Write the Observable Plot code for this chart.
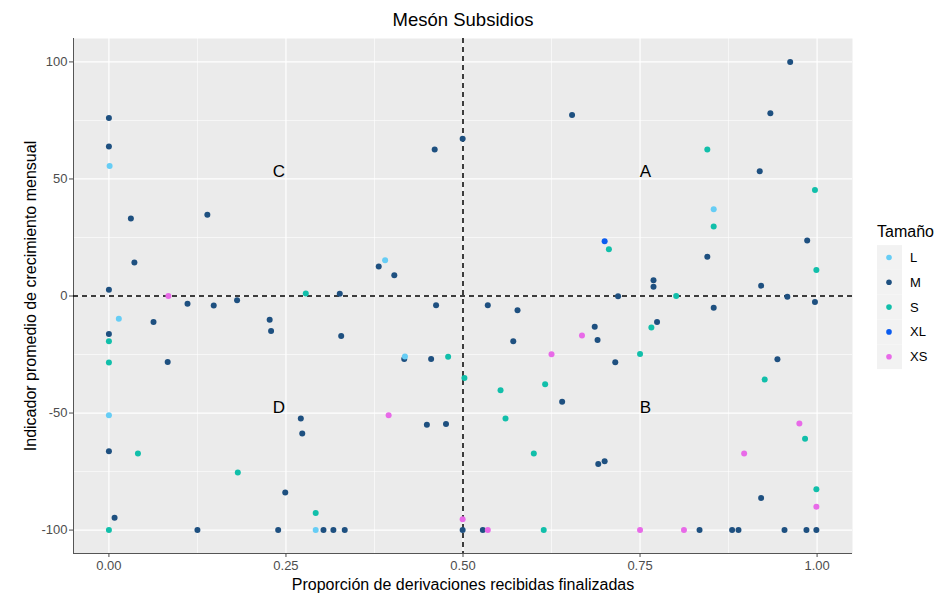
<!DOCTYPE html>
<html>
<head>
<meta charset="utf-8">
<script src="https://cdn.jsdelivr.net/npm/d3@7"></script>
<script src="https://cdn.jsdelivr.net/npm/@observablehq/plot@0.6"></script>
<style>
  html, body { margin: 0; padding: 0; background: #fff; }
  svg { font-family: "Liberation Sans", Arial, sans-serif; }
</style>
</head>
<body>
<div id="chart"></div>
<script>
// ---- Data ----
const sizes = ["L", "M", "S", "XL", "XS"];
const sizeColors = ["#66cdf5", "#1e5080", "#11bfaa", "#0a5cf0", "#e86ae8"];

const lX = [0.001, 0.390, 0.854, 0.014, 0.418, 0.000, 0.292];
const lY = [55.5, 15.3, 37.1, -9.7, -25.8, -50.9, -100];

const mX = [0, 0, 0.031, 0.036, 0, 0.111, 0.139, 0.148, 0.181, 0.326, 0.381, 0.403, 0.460, 0.4995, 0.462,
  0.654, 0.962, 0.934, 0.919, 0.986, 0.845, 0.769, 0.769, 0.921, 0.719, 0.958, 0.535, 0.577, 0.854, 0.997,
  0.063, 0, 0.083, 0.227, 0.229, 0.328, 0.417, 0.455, 0, 0.271, 0.273, 0.249, 0.449, 0.476, 0.008,
  0.125, 0.239, 0.303, 0.317, 0.333, 0.4995, 0.571, 0.686, 0.690, 0.715, 0.774, 0.944, 0.640, 0.691, 0.700,
  0.921, 0.528, 0.834, 0.880, 0.889, 0.954, 0.985, 0.999];
const mY = [76, 63.9, 33.1, 14.3, 2.7, -3.3, 34.7, -4.1, -1.8, 1.0, 12.6, 8.9, 62.6, 67.2, -4.0,
  77.3, 100, 78.1, 53.3, 23.7, 16.8, 6.7, 4.0, 4.4, -0.1, -0.3, -4.0, -6.1, -5.0, -2.6,
  -11.1, -16.2, -28.2, -10.1, -14.9, -17.1, -26.9, -26.9, -66.3, -52.3, -58.7, -83.9, -55.0, -54.7, -94.7,
  -100, -100, -100, -100, -100, -100, -19.3, -13.1, -18.8, -28.3, -11.1, -27.0, -45.2, -71.8, -70.6,
  -86.3, -100, -100, -100, -100, -100, -100, -100];

const sX = [0.278, 0.845, 0.997, 0.854, 0.706, 0.999, 0.801, 0, 0, 0.479, 0.502, 0.041, 0.182, 0.292, 0,
  0.750, 0.766, 0.926, 0.553, 0.616, 0.560, 0.600, 0.983, 0.999, 0.614];
const sY = [1.1, 62.6, 45.3, 29.7, 20.0, 11.1, 0, -19.3, -28.4, -26.0, -35.0, -67.3, -75.4, -92.7, -100,
  -24.8, -13.5, -35.7, -40.3, -37.7, -52.3, -67.3, -61.0, -82.6, -100];

const xlX = [0.700];
const xlY = [23.4];

const xsX = [0.084, 0.395, 0.4995, 0.535, 0.668, 0.625, 0.897, 0.975, 0.999, 0.750, 0.812];
const xsY = [0, -50.9, -95.4, -100, -16.9, -24.9, -67.3, -54.5, -90.0, -100, -100];

const quadLabels = ["A", "B", "C", "D"];
const quadX = [0.7575, 0.7575, 0.24, 0.24];
const quadY = [53, -47.5, 53, -47.5];

const xTicks = [0, 0.25, 0.5, 0.75, 1];
const yTicks = [-100, -50, 0, 50, 100];
const xMinor = [0.125, 0.375, 0.625, 0.875];
const yMinor = [-75, -25, 25, 75];

const titleText = "Mesón Subsidios";
const xTitle = "Proporción de derivaciones recibidas finalizadas";
const yTitle = "Indicador promedio de crecimiento mensual";
const legendTitle = "Tamaño";

// ---- Build table ----
const series = [["M", mX, mY], ["L", lX, lY], ["S", sX, sY], ["XL", xlX, xlY], ["XS", xsX, xsY]];
const points = [];
for (const [t, xs, ys] of series) xs.forEach((x, i) => points.push({x, y: ys[i], tamano: t}));
const quads = quadLabels.map((l, i) => ({l, x: quadX[i], y: quadY[i]}));

const chart = Plot.plot({
  width: 937,
  height: 594,
  marginLeft: 73,
  marginRight: 85,
  marginTop: 38,
  marginBottom: 41,
  style: {fontFamily: "'Liberation Sans', Arial, sans-serif", background: "#fff"},
  x: {domain: [-0.05, 1.05]},
  y: {domain: [-110, 110]},
  color: {domain: sizes, range: sizeColors},
  marks: [
    Plot.frame({fill: "#ebebeb", stroke: "none"}),
    Plot.ruleX(xMinor, {stroke: "#fff", strokeWidth: 0.6}),
    Plot.ruleY(yMinor, {stroke: "#fff", strokeWidth: 0.6}),
    Plot.ruleX(xTicks, {stroke: "#fff", strokeWidth: 1.2}),
    Plot.ruleY(yTicks, {stroke: "#fff", strokeWidth: 1.2}),
    Plot.ruleX([-0.05], {stroke: "#555", strokeWidth: 1}),
    Plot.ruleY([-110], {stroke: "#555", strokeWidth: 1}),
    Plot.ruleX([0.5], {stroke: "#000", strokeWidth: 1.5, strokeDasharray: "5,4"}),
    Plot.ruleY([0], {stroke: "#000", strokeWidth: 1.5, strokeDasharray: "5,4"}),
    Plot.dot(points, {x: "x", y: "y", fill: "tamano", r: 3}),
    Plot.text(quads, {x: "x", y: "y", text: "l", fontSize: 17, fill: "#000"}),
    Plot.axisX({ticks: xTicks, tickFormat: d3.format(".2f"), tickSize: 4, tickPadding: 3, fontSize: 13, color: "#4d4d4d", label: null}),
    Plot.axisY({ticks: yTicks, tickFormat: d => String(d), tickSize: 4, tickPadding: 2, fontSize: 13, color: "#4d4d4d", label: null}),
    Plot.text([titleText], {frameAnchor: "top", lineAnchor: "middle", dy: -18, fontSize: 18.5, fill: "#000"}),
    Plot.text([xTitle], {frameAnchor: "bottom", lineAnchor: "middle", dy: 31, fontSize: 16, fill: "#000"}),
    Plot.text([yTitle], {frameAnchor: "left", textAnchor: "middle", lineAnchor: "middle", dx: -43, rotate: -90, fontSize: 16, fill: "#000"})
  ]
});

// ---- Legend (drawn into the same SVG, colours from the Plot colour scale) ----
const colorScale = chart.scale("color");
const svg = d3.select(chart);
const lg = svg.append("g").attr("font-family", "'Liberation Sans', Arial, sans-serif").attr("text-anchor", "start");
lg.append("text").attr("x", 877).attr("y", 231).attr("dominant-baseline", "central")
  .attr("font-size", 16).attr("fill", "#000").text(legendTitle);
sizes.forEach((s, i) => {
  const cy = 257.5 + i * 24.8;
  lg.append("rect").attr("x", 877).attr("y", cy - 12.4).attr("width", 25).attr("height", 24.8).attr("fill", "#f2f2f2");
  lg.append("circle").attr("cx", 889).attr("cy", cy).attr("r", 2.8).attr("fill", colorScale.apply(s));
  lg.append("text").attr("x", 910).attr("y", cy).attr("dominant-baseline", "central")
    .attr("font-size", 13).attr("fill", "#000").text(s);
});

document.getElementById("chart").appendChild(chart);
</script>
</body>
</html>
